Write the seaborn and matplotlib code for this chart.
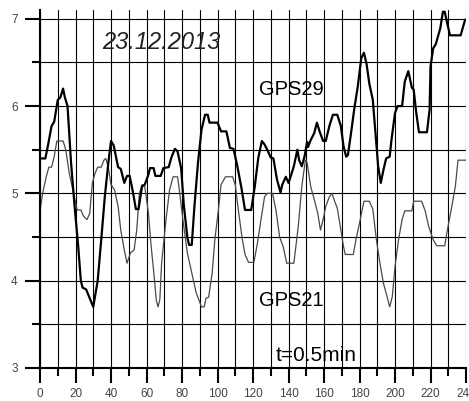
import pandas as pd
import matplotlib
matplotlib.use("Agg")
import matplotlib.pyplot as plt
import seaborn as sns
from matplotlib.ticker import MultipleLocator

# GPS29 (thick line): time points and values
t29 = [0, 3, 4.5, 6.5, 8, 10, 11.5, 13, 14, 15.5, 17.5, 19.5, 21.5, 23, 24, 26, 28, 30,
       32.5, 34.5, 36.5, 38.5, 40, 41.5, 44, 45.5, 47.5, 49, 50.5, 52.5, 54, 55.5, 57.5,
       59, 61, 62, 64, 65, 68, 69.5, 72.5, 74, 76, 77.5, 79.5, 81, 83, 84, 85.5, 87, 89,
       91, 93, 94.5, 95.5, 100, 102, 105, 107, 109, 111, 113.5, 115.5, 119, 121, 123,
       125, 126.5, 128, 130, 131.5, 133.5, 135.5, 136.5, 138.5, 140, 141.5, 143, 145,
       146, 147.5, 149, 150.5, 151, 152.5, 154.5, 156, 157.5, 159.5, 161, 163, 165,
       167.5, 169.5, 171, 172.5, 173.5, 175.5, 177, 179, 181, 182.5, 184, 185.5, 187.5,
       189, 190.5, 192, 193.5, 195, 197, 198, 200, 201.5, 204, 205.5, 207.5, 209.5,
       210.5, 212, 213.5, 218, 219.5, 220, 221.5, 223, 224.5, 225.5, 227, 228, 229.5,
       231, 237, 239.5]
v29 = [5.4, 5.4, 5.55, 5.77, 5.82, 6.07, 6.1, 6.2, 6.1, 6.0, 5.35, 4.85, 4.4, 4.0, 3.92,
       3.9, 3.8, 3.7, 4.0, 4.47, 4.96, 5.35, 5.6, 5.55, 5.3, 5.28, 5.12, 5.2, 5.2, 5.0,
       4.82, 4.82, 5.08, 5.1, 5.21, 5.29, 5.29, 5.2, 5.2, 5.29, 5.3, 5.41, 5.51, 5.48,
       5.29, 4.87, 4.5, 4.41, 4.41, 4.85, 5.35, 5.73, 5.9, 5.9, 5.81, 5.81, 5.71, 5.71,
       5.52, 5.51, 5.33, 5.06, 4.81, 4.81, 5.08, 5.41, 5.6, 5.56, 5.5, 5.41, 5.4, 5.16,
       5.01, 5.1, 5.19, 5.12, 5.21, 5.31, 5.5, 5.38, 5.31, 5.42, 5.59, 5.53, 5.61, 5.69,
       5.81, 5.71, 5.6, 5.6, 5.77, 5.9, 5.9, 5.77, 5.54, 5.42, 5.44, 5.73, 5.96, 6.22,
       6.55, 6.61, 6.48, 6.26, 6.07, 5.69, 5.31, 5.12, 5.27, 5.4, 5.42, 5.61, 5.92, 6.0,
       6.0, 6.28, 6.4, 6.21, 6.19, 5.92, 5.7, 5.7, 5.96, 6.45, 6.66, 6.71, 6.82, 6.89,
       7.08, 7.08, 6.94, 6.81, 6.81, 6.99]

# GPS21 (thin line)
t21 = [0, 1.5, 3.5, 5, 6.5, 8, 9.5, 13, 14.5, 16.5, 18.5, 20.5, 21, 23, 24.5, 26.5, 28,
       29.5, 31, 32.5, 34.5, 36, 37, 38.5, 40, 42, 44, 45.5, 47.5, 49, 51, 53, 54.5, 56,
       57.5, 59, 61, 62.5, 64.5, 65.5, 66.5, 67.5, 68.5, 71, 73, 75, 77.5, 78.5, 80.5, 83,
       85.5, 88, 91, 92.5, 93.5, 95, 97, 98.5, 100.5, 102, 104.5, 108.5, 110, 112, 114,
       115.5, 117.5, 120.5, 122.5, 124.5, 126.5, 128, 131, 133, 135, 137, 139, 143, 145.5,
       147.5, 149.5, 150.5, 152.5, 154.5, 156.5, 158, 159.5, 161, 163, 164.5, 166, 167.5,
       169.5, 171, 172, 176.5, 178, 180, 182.5, 185.5, 187.5, 189.5, 191.5, 193.5, 195.5,
       197, 198.5, 200, 202, 204, 205.5, 209.5, 210.5, 215, 217, 219, 221.5, 223.5, 228,
       229.5, 232, 234, 235.5, 240]
v21 = [4.8, 5.0, 5.19, 5.3, 5.3, 5.42, 5.6, 5.6, 5.5, 5.23, 5.04, 4.85, 4.81, 4.81, 4.74,
       4.7, 4.77, 5.12, 5.23, 5.3, 5.3, 5.38, 5.4, 5.3, 5.1, 5.04, 4.85, 4.58, 4.35, 4.2,
       4.32, 4.35, 4.58, 5.0, 5.1, 5.08, 4.79, 4.42, 4.01, 3.78, 3.7, 3.78, 4.2, 4.7, 5.04,
       5.19, 5.19, 5.04, 4.7, 4.32, 4.09, 3.86, 3.7, 3.7, 3.8, 3.81, 4.09, 4.47, 4.81, 5.1,
       5.19, 5.19, 5.1, 4.77, 4.47, 4.3, 4.21, 4.21, 4.43, 4.7, 4.96, 5.0, 5.0, 4.8, 4.5,
       4.39, 4.2, 4.2, 4.62, 5.08, 5.38, 5.35, 5.08, 4.93, 4.77, 4.58, 4.7, 4.85, 4.96,
       5.0, 4.91, 4.83, 4.58, 4.39, 4.3, 4.3, 4.47, 4.66, 4.91, 4.91, 4.82, 4.47, 4.2,
       3.97, 3.82, 3.7, 3.82, 4.16, 4.47, 4.7, 4.8, 4.8, 4.91, 4.91, 4.8, 4.62, 4.47, 4.4,
       4.4, 4.58, 4.85, 5.08, 5.38, 5.38]

sns.set_style("white")
plt.rcParams['font.family'] = ['Liberation Sans', 'DejaVu Sans']

df29 = pd.DataFrame({'t': t29, 'v': v29})
df21 = pd.DataFrame({'t': t21, 'v': v21})

fig = plt.figure(figsize=(4.69, 4.01), dpi=100)
ax = fig.add_axes([40 / 469, 1 - 368 / 401, 426 / 469, 358 / 401])

sns.lineplot(data=df21, x='t', y='v', color='#4a4a4a', linewidth=0.9, ax=ax)
sns.lineplot(data=df29, x='t', y='v', color='black', linewidth=1.6, ax=ax)

ax.set_xlim(0, 240)
ax.set_ylim(3, 7.1)
ax.xaxis.set_major_locator(MultipleLocator(20))
ax.xaxis.set_minor_locator(MultipleLocator(10))
ax.yaxis.set_major_locator(MultipleLocator(1))
ax.yaxis.set_minor_locator(MultipleLocator(0.5))
ax.grid(True, which='both', color='black', linewidth=0.8)
ax.set_axisbelow(True)

for s in ['top', 'right']:
    ax.spines[s].set_visible(False)
for s in ['left', 'bottom']:
    ax.spines[s].set_linewidth(1.5)
    ax.spines[s].set_color('black')

ax.tick_params(which='both', bottom=True, left=True, top=False, right=False)
ax.tick_params(which='major', direction='out', length=11, width=1.5, color='black',
               labelsize=8.5, labelcolor='#444444')
ax.tick_params(axis='x', which='major', pad=3.5)
ax.tick_params(axis='y', which='major', pad=5)
ax.tick_params(which='minor', direction='out', length=5.5, width=1.5, color='black')
ax.set_xlabel('')
ax.set_ylabel('')

ax.text(35, 6.655, '23.12.2013', fontsize=17, style='italic', color='#222222')
ax.text(123.5, 6.13, 'GPS29', fontsize=14.5, color='black')
ax.text(123.5, 3.71, 'GPS21', fontsize=14.5, color='black')
ax.text(132.5, 3.075, 't=0.5min', fontsize=15, color='black')

fig.savefig('out.png', dpi=100)
